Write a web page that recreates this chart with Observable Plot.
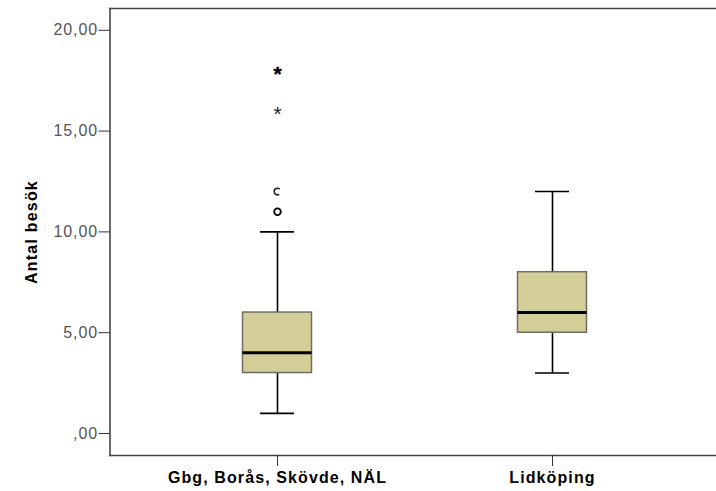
<!DOCTYPE html>
<html><head><meta charset="utf-8">
<script src="https://cdn.jsdelivr.net/npm/d3@7"></script>
<script src="https://cdn.jsdelivr.net/npm/@observablehq/plot@0.6"></script>
<style>body{margin:0;background:#fff} svg{display:block}</style>
</head><body><div id="chart"></div>
<script>
// ---- data ----
const groups = ["Gbg, Borås, Skövde, NÄL", "Lidköping"];
const whiskerLow = [1, 3];
const q1 = [3, 5];
const median = [4, 6];
const q3 = [6, 8];
const whiskerHigh = [10, 12];
const circleGroup = ["Gbg, Borås, Skövde, NÄL", "Gbg, Borås, Skövde, NÄL"];
const circleValue = [11, 12];
const circlePartial = [false, true];
const starGroup = ["Gbg, Borås, Skövde, NÄL", "Gbg, Borås, Skövde, NÄL"];
const starValue = [16, 18];
const starBold = [false, true];
const yTicks = [0, 5, 10, 15, 20];
const yTickLabels = [",00", "5,00", "10,00", "15,00", "20,00"];
const yLabel = "Antal besök";

// ---- tables ----
const boxes = groups.map((g, i) => ({group: g, low: whiskerLow[i], q1: q1[i], median: median[i], q3: q3[i], high: whiskerHigh[i]}));
const circles = circleValue.map((v, i) => ({group: circleGroup[i], value: v, partial: circlePartial[i]}));
const stars = starValue.map((v, i) => ({group: starGroup[i], value: v, bold: starBold[i]}));

const font = "'Liberation Sans', Arial, sans-serif";

const chart = Plot.plot({
  width: 716,
  height: 491,
  marginLeft: 109.5,
  marginRight: 0,
  marginTop: 8,
  marginBottom: 36,
  style: {fontFamily: font, background: "#fff"},
  x: {type: "band", domain: groups, range: [109.5, 719.5], paddingInner: 0.749, paddingOuter: 0.4836, round: false, label: null},
  y: {domain: [-1.09, 21.08], label: null},
  marks: [
    Plot.ruleX(boxes, {x: "group", y1: "low", y2: "q1", stroke: "#000", strokeWidth: 1.6}),
    Plot.ruleX(boxes, {x: "group", y1: "q3", y2: "high", stroke: "#000", strokeWidth: 1.6}),
    Plot.tickY(boxes, {x: "group", y: "low", stroke: "#000", strokeWidth: 1.6, insetLeft: 17.5, insetRight: 17.5}),
    Plot.tickY(boxes, {x: "group", y: "high", stroke: "#000", strokeWidth: 1.6, insetLeft: 17.5, insetRight: 17.5}),
    Plot.barY(boxes, {x: "group", y1: "q1", y2: "q3", fill: "#D3CE97", stroke: "#6f6f60", strokeWidth: 1.5}),
    Plot.tickY(boxes, {x: "group", y: "median", stroke: "#000", strokeWidth: 3}),
    Plot.dot(circles.filter(d => !d.partial), {x: "group", y: "value", r: 3.3, stroke: "#000", strokeWidth: 1.8, fill: "none"}),
    Plot.dot(circles.filter(d => d.partial), {x: "group", y: "value", r: 3.3, stroke: "#222", strokeWidth: 1.6, fill: "none", strokeDasharray: "0 3.2 14.3 3.2"}),
    Plot.text(stars.filter(d => !d.bold), {x: "group", y: "value", text: () => "*", fontSize: 21, fill: "#222", dy: 3.5, fontFamily: font}),
    Plot.text(stars.filter(d => d.bold), {x: "group", y: "value", text: () => "*", fontSize: 21, fontWeight: "bold", fill: "#000", stroke: "#000", strokeWidth: 0.4, dy: 3.5, fontFamily: font}),
    Plot.frame({anchor: "left", stroke: "#444", strokeWidth: 1.6}),
    Plot.frame({anchor: "top", stroke: "#444", strokeWidth: 1.6}),
    Plot.frame({anchor: "bottom", stroke: "#444", strokeWidth: 1.6}),
    Plot.axisY({ticks: yTicks, tickFormat: d => yTickLabels[yTicks.indexOf(d)], tickSize: 11, tickPadding: 1, label: null, stroke: "#333"}),
    Plot.axisX({tickSize: 11, tickPadding: 5, label: null, stroke: "#333"}),
    Plot.text([yLabel], {frameAnchor: "left", textAnchor: "middle", text: d => d, rotate: -90, dx: -78, fontSize: 16, fontWeight: "bold", fill: "#000", fontFamily: font})
  ]
});

const svg = d3.select(chart);
svg.selectAll('g[aria-label="y-axis tick label"]')
  .attr("font-size", 16).attr("fill", "#555").style("letter-spacing", "0.9px");
svg.selectAll('g[aria-label="y-axis tick label"] text').attr("fill", "#555");
svg.selectAll('g[aria-label="x-axis tick label"]')
  .attr("font-size", 16).attr("font-weight", "bold").attr("fill", "#000").style("letter-spacing", "1.1px");
svg.selectAll('g[aria-label="text"]').filter(function() { return d3.select(this).text() === yLabel; })
  .style("letter-spacing", "1.2px");
document.getElementById("chart").appendChild(chart);
</script>
</body></html>
